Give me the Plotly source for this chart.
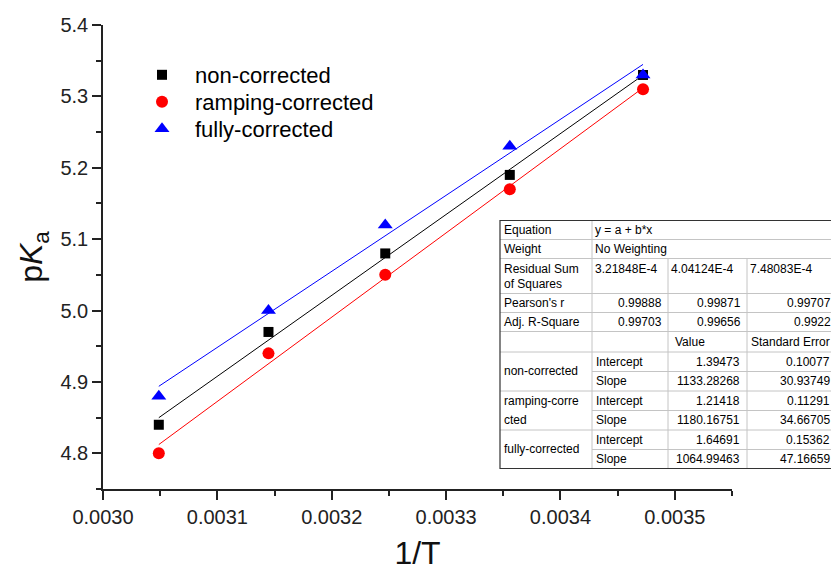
import plotly.graph_objects as go

# ---------------- data ----------------
inv_T = [0.0030488, 0.0031447, 0.0032468, 0.0033557, 0.0034722]
series_names = ["non-corrected", "ramping-corrected", "fully-corrected"]
pka_non = [4.84, 4.97, 5.08, 5.19, 5.33]
pka_ramp = [4.80, 4.94, 5.05, 5.17, 5.31]
pka_full = [4.88, 5.00, 5.12, 5.23, 5.33]
intercepts = [1.39473, 1.21418, 1.64691]
slopes = [1133.28268, 1180.16751, 1064.99463]
intercept_err = ["0.10077", "0.11291", "0.15362"]
slope_err = ["30.93749", "34.66705", "47.16659"]
intercept_txt = ["1.39473", "1.21418", "1.64691"]
slope_txt = ["1133.28268", "1180.16751", "1064.99463"]
rss = ["3.21848E-4", "4.04124E-4", "7.48083E-4"]
pearson = ["0.99888", "0.99871", "0.99707"]
adj_r2 = ["0.99703", "0.99656", "0.9922"]

colors = ["#000000", "#ff0000", "#0000ff"]
symbols = ["square", "circle", "triangle-up"]
sizes = [10, 12, 13]
ys = [pka_non, pka_ramp, pka_full]

W, H = 831, 571
ML, MR, MT, MB = 103, 99, 25, 82
PW, PH = W - ML - MR, H - MT - MB

def px(x):
    return (x - ML) / PW

def py(y):
    return (H - MB - y) / PH

fig = go.Figure()

# fit lines
for i in range(3):
    xl = [inv_T[0], inv_T[-1]]
    yl = [intercepts[i] + slopes[i] * x for x in xl]
    fig.add_trace(go.Scatter(x=xl, y=yl, mode="lines", line=dict(color=colors[i], width=1),
                             showlegend=False, hoverinfo="skip"))

legend_ids = ["legend", "legend2", "legend3"]
for i in range(3):
    fig.add_trace(go.Scatter(x=inv_T, y=ys[i], mode="markers", name=series_names[i],
                             legend=legend_ids[i],
                             marker=dict(symbol=symbols[i], size=sizes[i], color=colors[i],
                                         line=dict(width=0))))

axis_common = dict(showline=True, linecolor="#222", linewidth=1.5, ticks="outside",
                   ticklen=9, tickwidth=1.5, tickcolor="#222", showgrid=False, zeroline=False,
                   tickfont=dict(family="Arial, Liberation Sans", size=20, color="#222"),
                   mirror=False)

fig.update_xaxes(range=[0.0030, 0.00355], dtick=0.0001, tick0=0.0030, tickformat=".4f",
                 minor=dict(dtick=0.00005, ticks="outside", ticklen=5, tickwidth=1.5, tickcolor="#222"),
                 title=dict(text="1/T", font=dict(family="Arial, Liberation Sans", size=32, color="#111"),
                            standoff=20),
                 **axis_common)
fig.update_yaxes(range=[4.75, 5.4], dtick=0.1, tick0=4.8, tickformat=".1f",
                 minor=dict(dtick=0.05, ticks="outside", ticklen=5, tickwidth=1.5, tickcolor="#222"),
                 title=dict(text="p<i>K</i><sub>a</sub>",
                            font=dict(family="Arial, Liberation Sans", size=32, color="#111"),
                            standoff=8),
                 **axis_common)

# ---------------- table ----------------
X = [500, 592, 668, 747, 837]
Y = [220.5, 239.5, 258.5, 293.5, 312.5, 331.5, 352, 371.5, 391, 410.5, 430, 449.5, 468.5]
grey = "#c4c4c4"
shapes = []
shapes.append(dict(type="rect", xref="paper", yref="paper", x0=px(X[0]), x1=px(X[4]),
                   y0=py(Y[0]), y1=py(Y[-1]), fillcolor="white", line=dict(width=0), layer="above"))
for k in range(1, 12):
    x0 = X[1] if k in (7, 9, 11) else X[0]
    shapes.append(dict(type="line", xref="paper", yref="paper", x0=px(x0), x1=px(X[4]),
                       y0=py(Y[k]), y1=py(Y[k]), line=dict(color=grey, width=1), layer="above"))
shapes.append(dict(type="line", xref="paper", yref="paper", x0=px(X[1]), x1=px(X[1]),
                   y0=py(Y[0]), y1=py(Y[-1]), line=dict(color=grey, width=1), layer="above"))
for xx in (X[2], X[3]):
    shapes.append(dict(type="line", xref="paper", yref="paper", x0=px(xx), x1=px(xx),
                       y0=py(Y[2]), y1=py(Y[-1]), line=dict(color=grey, width=1), layer="above"))
shapes.append(dict(type="rect", xref="paper", yref="paper", x0=px(X[0]), x1=px(X[4]),
                   y0=py(Y[0]), y1=py(Y[-1]), line=dict(color="#333", width=1.2), layer="above"))

tfont = dict(family="Arial, Liberation Sans", size=12, color="#000")
ann = []

def cell(text, x, y, anchor="left"):
    ann.append(dict(text=text, x=px(x), y=py(y), xref="paper", yref="paper", showarrow=False,
                    xanchor=anchor, yanchor="middle", font=tfont, borderpad=0))

def mid(a, b):
    return (Y[a] + Y[b]) / 2

cell("Equation", X[0] + 3, mid(0, 1))
cell("y = a + b*x", X[1] + 2, mid(0, 1))
cell("Weight", X[0] + 3, mid(1, 2))
cell("No Weighting", X[1] + 2, mid(1, 2))
cell("Residual Sum", X[0] + 3, Y[2] + 10)
cell("of Squares", X[0] + 3, Y[2] + 26)
for j in range(3):
    cell(rss[j], X[1 + j] + 2, Y[2] + 10)
cell("Pearson's r", X[0] + 3, mid(3, 4))
cell("Adj. R-Square", X[0] + 3, mid(4, 5))
for j in range(3):
    cell(pearson[j], X[2 + j] - 5, mid(3, 4), "right")
    cell(adj_r2[j], X[2 + j] - 5, mid(4, 5), "right")
cell("Value", X[2] + 6, mid(5, 6))
cell("Standard Error", X[3] + 3, mid(5, 6))
group_rows = [(6, 7, 8), (8, 9, 10), (10, 11, 12)]
for g, (a, b, c) in enumerate(group_rows):
    if g == 1:
        cell("ramping-corre", X[0] + 3, mid(a, b))
        cell("cted", X[0] + 3, mid(b, c))
    else:
        cell(series_names[g], X[0] + 3, (Y[a] + Y[c]) / 2)
    cell("Intercept", X[1] + 3, mid(a, b))
    cell("Slope", X[1] + 3, mid(b, c))
    cell(intercept_txt[g], X[3] - 6, mid(a, b), "right")
    cell(slope_txt[g], X[3] - 6, mid(b, c), "right")
    cell(intercept_err[g], X[4] - 6, mid(a, b), "right")
    cell(slope_err[g], X[4] - 6, mid(b, c), "right")

leg_font = dict(family="Arial, Liberation Sans", size=22, color="#000")
leg_tops = [54, 81, 108]
legends = {}
for i, lid in enumerate(legend_ids):
    legends[lid] = dict(x=px(129), y=py(leg_tops[i]), xanchor="left", yanchor="top", itemwidth=56,
                        font=leg_font, bgcolor="rgba(0,0,0,0)")

fig.update_layout(
    width=W, height=H, margin=dict(l=ML, r=MR, t=MT, b=MB, autoexpand=False),
    paper_bgcolor="white", plot_bgcolor="white",
    shapes=shapes, annotations=ann,
    font=dict(family="Arial, Liberation Sans"),
    **legends,
)

fig.write_html("out.html", config={"displayModeBar": False},
               post_script="document.body.style.margin='0';")
